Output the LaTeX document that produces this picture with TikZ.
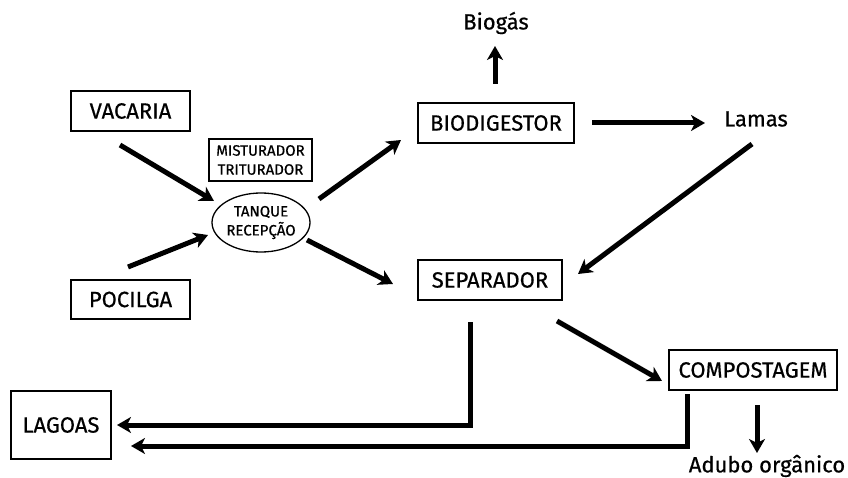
\documentclass[tikz,border=0pt]{standalone}
\usepackage{fontspec}
\newfontfamily\dfont{Fira Sans}[FakeBold=0.6]
\usetikzlibrary{shapes.geometric,arrows.meta}
\begin{document}
\begin{tikzpicture}[x=1pt,y=-1pt,
  box/.style={draw,line width=1.3pt,inner sep=0pt,font=\dfont\fontsize{22}{24}\selectfont},
  smallbox/.style={draw,line width=1.3pt,inner sep=0pt,align=center,font=\dfont\fontsize{15}{19}\selectfont},
  lbl/.style={inner sep=0pt,font=\dfont\fontsize{22}{24}\selectfont},
  flow/.style={line width=5pt,-{Stealth[length=14pt,width=16pt,inset=4pt]}}]
\useasboundingbox (0,0) rectangle (848,478);
\node[box,minimum width=119pt,minimum height=40pt] (vac) at (130.5,111) {VACARIA};
\node[box,minimum width=119pt,minimum height=39pt] (poc) at (130.5,299.5) {POCILGA};
\node[smallbox,minimum width=103pt,minimum height=42pt] (mis) at (260.5,160) {MISTURADOR\\TRITURADOR};
\node[smallbox,ellipse,minimum width=88pt,minimum height=59pt] (tan) at (261,222.5) {TANQUE\\RECEPÇÃO};
\node[box,minimum width=156pt,minimum height=40pt] (bio) at (496,123) {BIODIGESTOR};
\node[box,minimum width=144pt,minimum height=40pt] (sep) at (490,280) {SEPARADOR};
\node[box,minimum width=168pt,minimum height=40pt] (com) at (753,370) {COMPOSTAGEM};
\node[box,minimum width=100pt,minimum height=68pt] (lag) at (61,425) {LAGOAS};
\node[lbl] (gas) at (496,23) {Biogás};
\node[lbl] (lam) at (756,119) {Lamas};
\node[lbl] (adu) at (767,466) {Adubo orgânico};
% arrow end coordinates
\coordinate (a1s) at (120,145); \coordinate (a1e) at (214,201);
\coordinate (a2s) at (128,267); \coordinate (a2e) at (208,235);
\coordinate (a3s) at (319,199); \coordinate (a3e) at (401,140);
\coordinate (a4s) at (307,240); \coordinate (a4e) at (393,284);
\coordinate (a5s) at (495,84); \coordinate (a5e) at (495,46);
\coordinate (a6s) at (592,123); \coordinate (a6e) at (705,123);
\coordinate (a7s) at (752,144); \coordinate (a7e) at (578,274);
\coordinate (a8s) at (557,321); \coordinate (a8e) at (662,381);
\coordinate (a9s) at (757,405); \coordinate (a9e) at (757,453);
\coordinate (b1s) at (470,322); \coordinate (b1c) at (470,425); \coordinate (b1e) at (117,425);
\coordinate (b2s) at (687,394); \coordinate (b2c) at (687,446); \coordinate (b2e) at (131,446);
\draw[flow] (a1s) -- (a1e);
\draw[flow] (a2s) -- (a2e);
\draw[flow] (a3s) -- (a3e);
\draw[flow] (a4s) -- (a4e);
\draw[flow] (a5s) -- (a5e);
\draw[flow] (a6s) -- (a6e);
\draw[flow] (a7s) -- (a7e);
\draw[flow] (a8s) -- (a8e);
\draw[flow] (a9s) -- (a9e);
\draw[flow] (b1s) -- (b1c) -- (b1e);
\draw[flow] (b2s) -- (b2c) -- (b2e);
\end{tikzpicture}
\end{document}
